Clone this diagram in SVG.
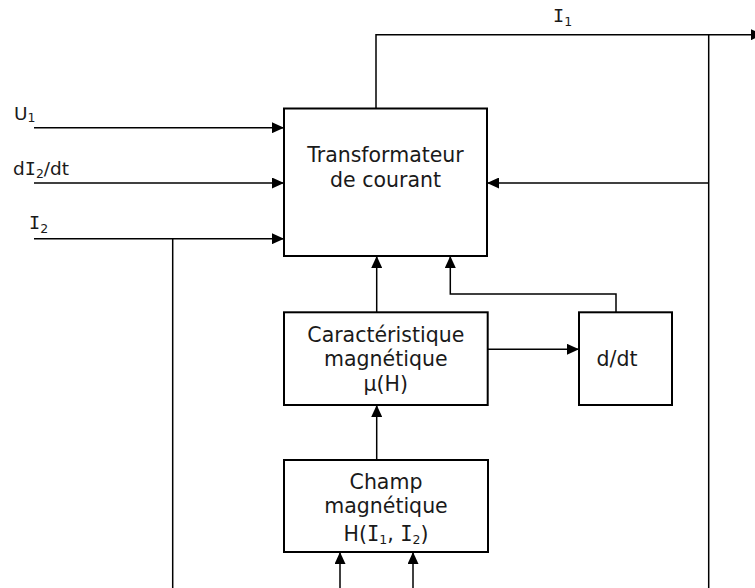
<svg xmlns="http://www.w3.org/2000/svg" width="755" height="588" viewBox="0 0 755 588">
<style>
  .box { fill: #ffffff; stroke: #000000; stroke-width: 2; }
  .ln { fill: none; stroke: #000000; stroke-width: 1.5; }
  .t { font-family: "DejaVu Sans", Verdana, sans-serif; font-size: 20.5px; fill: #1a1a1a; text-anchor: middle; }
  .lbl { font-family: "DejaVu Sans", Verdana, sans-serif; font-size: 18.5px; fill: #1a1a1a; }
  .I { font-family: "DejaVu Sans Mono", "Liberation Mono", monospace; }
  .sub { font-size: 12.5px; }
</style>
<defs>
  <marker id="arr" markerUnits="userSpaceOnUse" markerWidth="12" markerHeight="11" refX="12" refY="5.5" orient="auto">
    <path d="M0,0 L12,5.5 L0,11 Z" fill="#000000"/>
  </marker>
</defs>
<rect width="755" height="588" fill="#ffffff"/>

<g id="connectors">
  <line class="ln" x1="34" y1="127.7" x2="284" y2="127.7" marker-end="url(#arr)"/>
  <line class="ln" x1="34" y1="183" x2="284" y2="183" marker-end="url(#arr)"/>
  <line class="ln" x1="34" y1="238.7" x2="284" y2="238.7" marker-end="url(#arr)"/>
  <line class="ln" x1="172.7" y1="238.7" x2="172.7" y2="588"/>
  <polyline class="ln" points="376,108 376,34.7 763,34.7" marker-end="url(#arr)"/>
  <line class="ln" x1="708.7" y1="34.7" x2="708.7" y2="588"/>
  <line class="ln" x1="708.7" y1="183" x2="487" y2="183" marker-end="url(#arr)"/>
  <line class="ln" x1="376.7" y1="312" x2="376.7" y2="256" marker-end="url(#arr)"/>
  <polyline class="ln" points="616,312 616,294 450.3,294 450.3,256" marker-end="url(#arr)"/>
  <line class="ln" x1="488" y1="349.3" x2="579" y2="349.3" marker-end="url(#arr)"/>
  <line class="ln" x1="376.7" y1="460" x2="376.7" y2="405" marker-end="url(#arr)"/>
  <line class="ln" x1="340" y1="588" x2="340" y2="552" marker-end="url(#arr)"/>
  <line class="ln" x1="413" y1="588" x2="413" y2="552" marker-end="url(#arr)"/>
</g>

<g id="labels">
  <text class="lbl" x="14" y="119.5">U<tspan class="sub" dy="2">1</tspan></text>
  <text class="lbl" x="13" y="174.5">d<tspan class="I">I</tspan><tspan class="sub" dy="3.5">2</tspan><tspan dy="-3.5">/dt</tspan></text>
  <text class="lbl" x="29" y="229"><tspan class="I">I</tspan><tspan class="sub" dy="3.5">2</tspan></text>
  <text class="lbl" x="553" y="22"><tspan class="I">I</tspan><tspan class="sub" dy="4">1</tspan></text>
</g>

<g id="transformateur">
  <rect class="box" x="284" y="108.5" width="203" height="147.5"/>
  <text class="t" x="385.5" y="162.3">Transformateur</text>
  <text class="t" x="385.5" y="186.7">de courant</text>
</g>

<g id="caracteristique">
  <rect class="box" x="284" y="312.3" width="203.7" height="92.7"/>
  <text class="t" x="385.8" y="341.7">Caractéristique</text>
  <text class="t" x="385.8" y="366">magnétique</text>
  <text class="t" x="385.8" y="391">μ(H)</text>
</g>

<g id="ddt">
  <rect class="box" x="579" y="312.3" width="93" height="92.7"/>
  <text class="t" x="617" y="365.7">d/dt</text>
</g>

<g id="champ">
  <rect class="box" x="284" y="460" width="204" height="92"/>
  <text class="t" x="386" y="489.3">Champ</text>
  <text class="t" x="386" y="513.3">magnétique</text>
  <text class="t" x="386" y="540.7">H(<tspan class="I">I</tspan><tspan class="sub" dy="3">1</tspan><tspan dy="-3">, </tspan><tspan class="I">I</tspan><tspan class="sub" dy="3">2</tspan><tspan dy="-3">)</tspan></text>
</g>
</svg>
